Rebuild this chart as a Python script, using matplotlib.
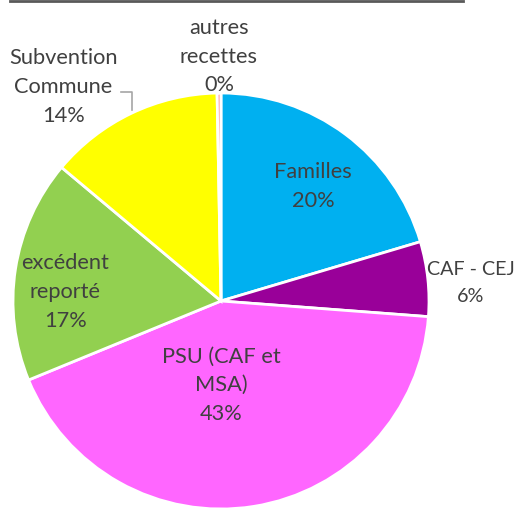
import matplotlib.pyplot as plt
from matplotlib.lines import Line2D

# data, clockwise from the top
labels = ['Familles', 'CAF - CEJ', 'PSU (CAF et\nMSA)', 'excédent\nreporté',
          'Subvention\nCommune', 'autres\nrecettes']
values = [20.4, 5.8, 42.6, 17.3, 13.6, 0.3]
colors = ['#00B0F0', '#990099', '#FF66FF', '#92D050', '#FFFF00', '#FF9999']

# label positions (in pie radius units)
label_pos = [(0.444, 0.556), (1.20, 0.092), (0.0, -0.40), (-0.749, 0.048),
             (-0.758, 1.034), (-0.01, 1.18)]
label_size = [15.7, 14.2, 15.7, 15.7, 15.7, 15.7]

plt.rcParams['font.family'] = ['Lato', 'DejaVu Sans']

fig = plt.figure(figsize=(5.18, 5.10), dpi=100)
ax = fig.add_axes([13 / 518, 0 / 510, 416 / 518, 416 / 510])

ax.pie(values, colors=colors, startangle=90, counterclock=False, radius=1,
       wedgeprops=dict(edgecolor='white', linewidth=2))
ax.set_xlim(-1, 1)
ax.set_ylim(-1, 1)
ax.set_aspect('equal')
ax.axis('off')

for lab, v, (x, y), fs in zip(labels, values, label_pos, label_size):
    ax.text(x, y, lab + '\n' + f'{round(v):d}%', ha='center', va='center',
            fontsize=fs, color='#404040', linespacing=1.55 * 15.7 / fs,
            clip_on=False)

# leader line for Subvention Commune
ax.plot([-0.483, -0.430, -0.430], [1.005, 1.005, 0.918], color='#A6A6A6',
        lw=1.2, clip_on=False)

# top border line
fig.add_artist(Line2D([10 / 518, 463 / 518], [1 - 2 / 510, 1 - 2 / 510],
                      color='#595959', lw=2))

fig.savefig('out.png', dpi=100)
